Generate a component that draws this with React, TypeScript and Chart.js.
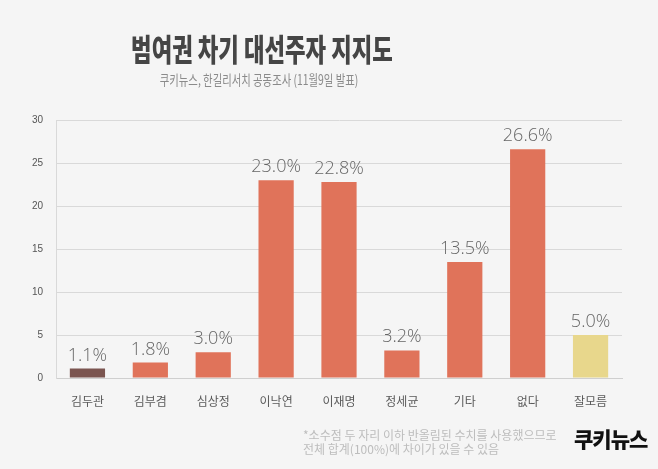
import React, { useEffect, useRef } from "react";
import { Chart, registerables } from "chart.js";

Chart.register(...registerables);

const categories = ["김두관", "김부겸", "심상정", "이낙연", "이재명", "정세균", "기타", "없다", "잘모름"];
const support = [1.1, 1.8, 3.0, 23.0, 22.8, 3.2, 13.5, 26.6, 5.0];
const barColors = ["#7b5550", "#e0735a", "#e0735a", "#e0735a", "#e0735a", "#e0735a", "#e0735a", "#e0735a", "#e8d78c"];
const yTicks = [0, 5, 10, 15, 20, 25, 30];

const titleText = "범여권 차기 대선주자 지지도";
const subtitleText = "쿠키뉴스, 한길리서치 공동조사 (11월9일 발표)";
const noteLines = ["*소수점 두 자리 이하 반올림된 수치를 사용했으므로", "전체 합계(100%)에 차이가 있을 수 있음"];

const valueLabels = {
  id: "valueLabels",
  afterDatasetsDraw(chart: any) {
    const ctx = chart.ctx;
    const meta = chart.getDatasetMeta(0);
    ctx.save();
    ctx.font = "300 18px 'Open Sans', sans-serif";
    ctx.fillStyle = "#666666";
    ctx.textAlign = "center";
    ctx.textBaseline = "alphabetic";
    meta.data.forEach((bar: any, i: number) => {
      ctx.fillText(support[i].toFixed(1) + "%", bar.x, bar.y - 8);
    });
    ctx.restore();
  },
};

export default function App() {
  const ref = useRef<HTMLCanvasElement | null>(null);
  useEffect(() => {
    document.body.style.margin = "0";
    const chart = new Chart(ref.current as HTMLCanvasElement, {
      type: "bar",
      data: {
        labels: categories,
        datasets: [
          {
            data: support,
            backgroundColor: barColors,
            borderWidth: 0,
            categoryPercentage: 1,
            barPercentage: 0.56,
          },
        ],
      },
      options: {
        responsive: false,
        animation: false,
        layout: { padding: { top: 120, right: 36, bottom: 61, left: 0 } },
        plugins: { legend: { display: false }, tooltip: { enabled: false }, title: { display: false } },
        scales: {
          x: {
            grid: { display: false, drawTicks: false },
            border: { display: true, color: "#cfcfcf" },
            ticks: { color: "#5a5a5a", font: { family: "'Noto Sans CJK KR', sans-serif", size: 12 }, padding: 16 },
            afterFit: (s: any) => { s.height = 30; },
          },
          y: {
            min: 0,
            max: 30,
            afterBuildTicks: (s: any) => { s.ticks = yTicks.map((v) => ({ value: v })); },
            grid: { color: "#d9d9d9", drawTicks: false },
            border: { display: true, color: "#d9d9d9" },
            ticks: { color: "#555", font: { family: "'Liberation Sans', sans-serif", size: 10 }, padding: 13 },
            afterFit: (s: any) => { s.width = 56; },
          },
        },
      },
      plugins: [valueLabels],
    });
    return () => chart.destroy();
  }, []);

  return (
    <div style={{ position: "relative", width: 658, height: 469, background: "#f5f5f5", overflow: "hidden" }}>
      <canvas ref={ref} width={658} height={469} style={{ position: "absolute", left: 0, top: 0 }} />
      <div style={{ position: "absolute", left: 0, width: 524, top: 28, textAlign: "center", fontFamily: "'Noto Sans CJK KR', sans-serif", fontWeight: 900, fontSize: 31, color: "#454545", lineHeight: "40px", transform: "scaleX(0.72)", transformOrigin: "262px 0", whiteSpace: "nowrap" }}>{titleText}</div>
      <div style={{ position: "absolute", left: 0, width: 518, top: 69, textAlign: "center", fontFamily: "'Noto Sans CJK KR', sans-serif", fontSize: 14, color: "#8a8a8a", lineHeight: "20px", transform: "scaleX(0.74)", transformOrigin: "259px 0", whiteSpace: "nowrap" }}>{subtitleText}</div>
      <div style={{ position: "absolute", left: 303, top: 428, fontFamily: "'Noto Sans CJK KR', sans-serif", fontSize: 12, color: "#bdbdbd", lineHeight: "14px", whiteSpace: "nowrap" }}>
        <div>{noteLines[0]}</div>
        <div>{noteLines[1]}</div>
      </div>
      <div style={{ position: "absolute", left: 574, top: 424, fontFamily: "'Noto Sans CJK KR', sans-serif", fontWeight: 900, fontSize: 21, color: "#111", lineHeight: "28px", whiteSpace: "nowrap", letterSpacing: -1 }}>
        쿠키<span style={{ color: "#111" }}>뉴스</span>
      </div>
    </div>
  );
}
